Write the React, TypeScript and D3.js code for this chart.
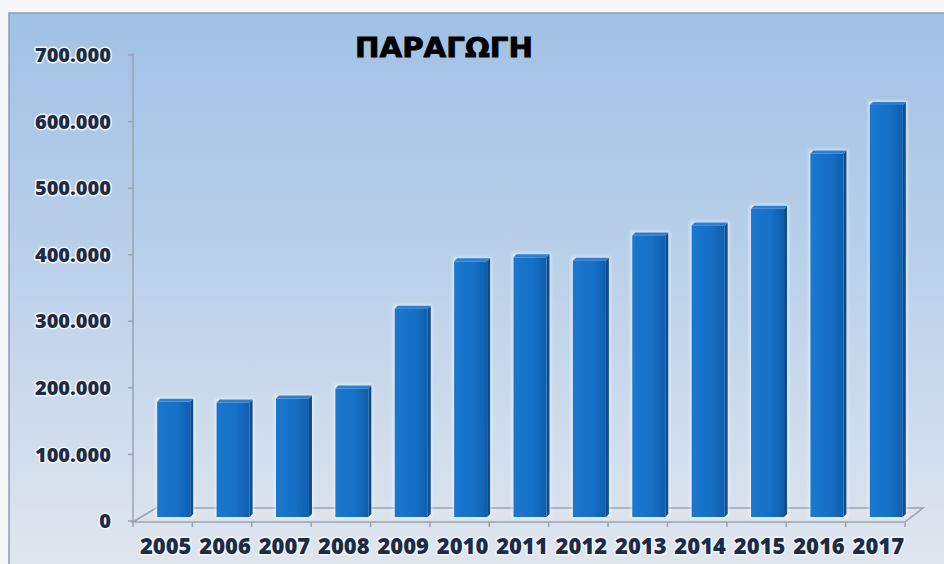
import React from "react";
import * as d3 from "d3";

const years = ["2005","2006","2007","2008","2009","2010","2011","2012","2013","2014","2015","2016","2017"];
const production = [173000,172000,178000,193000,313000,384000,390000,385000,423000,438000,463000,546000,619000];
const yTicks = [0,100000,200000,300000,400000,500000,600000,700000];
const title = "ΠΑΡΑΓΩΓΗ";

const W = 944, H = 564;
const fmt = d3.formatLocale({ thousands: ".", decimal: ",", grouping: [3], currency: ["", ""] }).format(",d");

export default function App() {
  const x = d3.scaleBand<string>().domain(years).range([133, 905]).paddingInner(0).paddingOuter(0);
  const y = d3.scaleLinear().domain([0, 700000]).range([521, 55]);
  const bw = 33;
  const shiftX = 11, shiftY = -4;
  const sideDx = 3, sideDy = -3;
  const labelStyle: React.CSSProperties = {
    fontFamily: "'Open Sans', 'DejaVu Sans', sans-serif",
    fontWeight: 800,
    fill: "#1d2c45",
    stroke: "#f2f6fb",
    strokeWidth: 3,
    paintOrder: "stroke",
    strokeLinejoin: "round",
  };
  return (
    <svg width={W} height={H} style={{ position: "absolute", left: 0, top: 0 }}>
      <defs>
        <linearGradient id="bg" x1="0" y1="0" x2="0" y2="1">
          <stop offset="0" stopColor="#a0c1e5" />
          <stop offset="0.45" stopColor="#bbd1ea" />
          <stop offset="1" stopColor="#e2e7ee" />
        </linearGradient>
        <linearGradient id="barFront" x1="0" y1="0" x2="1" y2="0">
          <stop offset="0" stopColor="#1a78cf" />
          <stop offset="0.6" stopColor="#1570c6" />
          <stop offset="1" stopColor="#0f5eae" />
        </linearGradient>
        <filter id="glow" x="-20%" y="-20%" width="140%" height="140%">
          <feGaussianBlur stdDeviation="1.5" />
        </filter>
      </defs>
      <rect x={0} y={0} width={W} height={H} fill="#f5f7f9" />
      <rect x={9} y={13} width={W + 10} height={H + 10} fill="url(#bg)" stroke="#8c9db2" strokeWidth={1.5} />

      {/* floor */}
      <polygon points="133,522 156,508 923,508 905,522" fill="#dde3ea" stroke="#98a3b1" strokeWidth={1.5} />
      {/* y axis */}
      <line x1={133} y1={y(700000) - 2} x2={133} y2={522} stroke="#98a3b1" strokeWidth={1.5} />
      {yTicks.map((t) => (
        <g key={t}>
          <line x1={128} x2={133} y1={y(t)} y2={y(t)} stroke="#98a3b1" strokeWidth={1.5} />
          <text x={111} y={y(t)} dy="0.36em" textAnchor="end" fontSize={20} style={labelStyle}>
            {fmt(t)}
          </text>
        </g>
      ))}
      {/* x ticks */}
      {years.map((yr) => (
        <line key={"t" + yr} x1={(x(yr) as number)} x2={(x(yr) as number)} y1={522} y2={527} stroke="#98a3b1" strokeWidth={1.5} />
      ))}
      <line x1={905} x2={905} y1={522} y2={527} stroke="#98a3b1" strokeWidth={1.5} />

      {/* bars */}
      {years.map((yr, i) => {
        const cx = (x(yr) as number) + x.bandwidth() / 2 + shiftX;
        const x0 = cx - bw / 2;
        const x1 = cx + bw / 2;
        const yb = y(0) + shiftY;
        const yt = y(production[i]) + shiftY;
        return (
          <g key={yr}>
            <rect x={x0 - 1.5} y={yt - 4} width={bw + 6} height={yb - yt + 5} fill="#ffffff" opacity={0.55} filter="url(#glow)" />
            <polygon points={`${x1},${yt} ${x1 + sideDx},${yt + sideDy} ${x1 + sideDx},${yb + sideDy} ${x1},${yb}`} fill="#0c4d92" />
            <polygon points={`${x0},${yt} ${x0 + sideDx},${yt + sideDy} ${x1 + sideDx},${yt + sideDy} ${x1},${yt}`} fill="#2f7fcc" />
            <rect x={x0} y={yt} width={bw} height={yb - yt} fill="url(#barFront)" />
          </g>
        );
      })}

      {/* x labels */}
      {years.map((yr) => (
        <text key={"l" + yr} x={(x(yr) as number) + x.bandwidth() / 2 + 3} y={554} textAnchor="middle" fontSize={22} style={labelStyle}>
          {yr}
        </text>
      ))}

      <text x={444} y={57} textAnchor="middle" fontSize={27} textLength={178} lengthAdjust="spacingAndGlyphs"
        style={{ fontFamily: "'DejaVu Sans', sans-serif", fontWeight: 700, fill: "#000", stroke: "#000", strokeWidth: 0.8 }}>
        {title}
      </text>
    </svg>
  );
}
